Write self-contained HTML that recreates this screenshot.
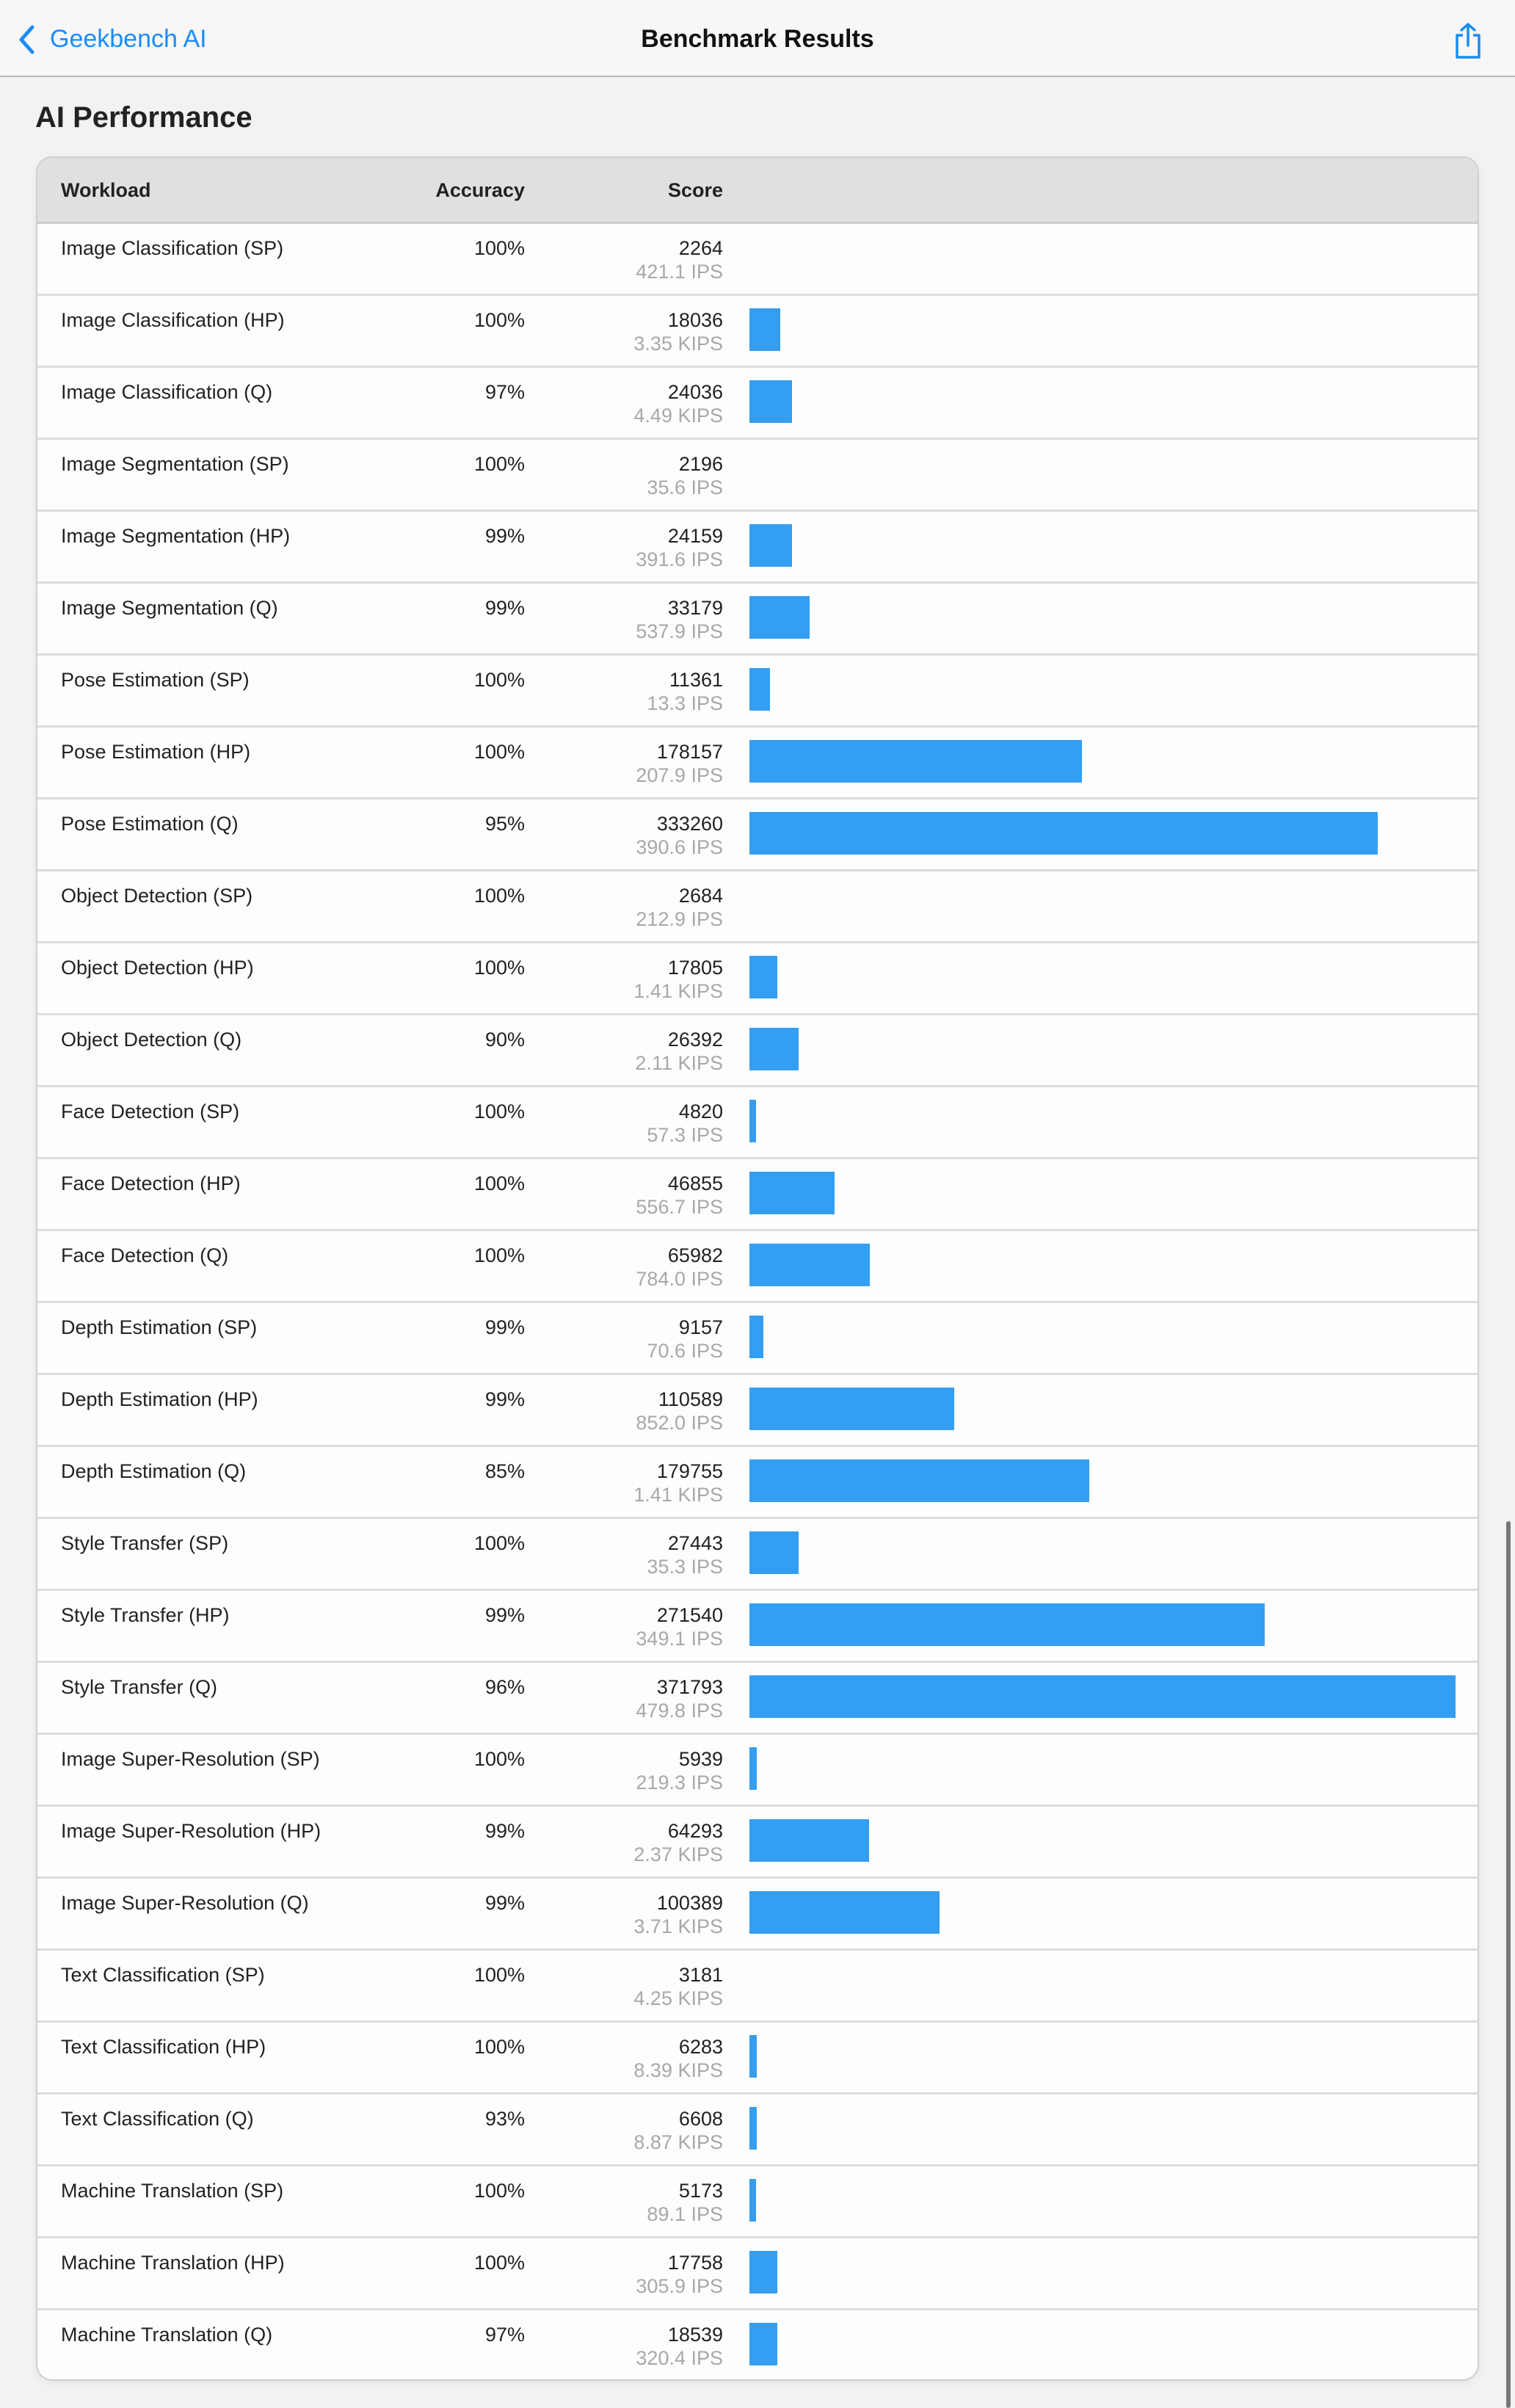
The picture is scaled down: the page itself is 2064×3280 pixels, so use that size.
<!DOCTYPE html>
<html><head><meta charset="utf-8"><style>
*{margin:0;padding:0;box-sizing:border-box}
body{width:2064px;height:3280px;background:#f2f2f2;font-family:"Liberation Sans",sans-serif;position:relative;overflow:hidden}
.nav{position:absolute;left:0;top:0;width:2064px;height:105px;background:#f7f7f7;border-bottom:2px solid #b8b8b8}
.back{position:absolute;left:68px;top:34px;font-size:34px;color:#1a8cf5}
.title{position:absolute;left:0;width:2064px;text-align:center;top:34px;font-size:34px;font-weight:bold;color:#111}
h1{position:absolute;left:48px;top:138px;font-size:40px;font-weight:bold;color:#222}
.card{position:absolute;left:49px;top:213px;width:1966px;height:3030px;background:#fdfdfd;border:2px solid #cfcfcf;border-radius:22px;overflow:hidden;box-shadow:0 4px 10px rgba(0,0,0,0.05)}
.hdr{height:90px;background:#e0e0e0;border-bottom:3px solid #cdcdcd;position:relative;font-weight:bold;font-size:27px;color:#222}
.hdr span{position:absolute;top:29px}
.row{height:98px;border-bottom:3px solid #dcdcdc;position:relative;font-size:27px;color:#222}
.row:last-child{border-bottom:none}
.n{position:absolute;left:32px;top:18px}
.a{position:absolute;right:1298px;top:18px}
.s{position:absolute;right:1028px;top:18px}
.u{position:absolute;right:1028px;top:50px;color:#a8a8a8}
.b{position:absolute;left:970px;top:17px;height:58px;background:#339ef2}
.sb{position:absolute;left:2052px;top:2072px;width:6px;height:1208px;background:#777;border-radius:3px}
</style></head><body>
<div class="nav">
<svg style="position:absolute;left:24px;top:34px" width="24" height="40" viewBox="0 0 24 40"><path d="M20 3 L5 20 L20 37" fill="none" stroke="#1a8cf5" stroke-width="5" stroke-linecap="round" stroke-linejoin="round"/></svg>
<div class="back">Geekbench AI</div>
<div class="title">Benchmark Results</div>
<svg style="position:absolute;left:1980px;top:30px" width="40" height="52" viewBox="0 0 40 52"><path d="M13 18 H5 V48 H35 V18 H27" fill="none" stroke="#1a8cf5" stroke-width="3.5" stroke-linejoin="round"/><path d="M20 32 V3 M11 11 L20 3 L29 11" fill="none" stroke="#1a8cf5" stroke-width="3.5" stroke-linecap="round" stroke-linejoin="round"/></svg>
</div>
<h1>AI Performance</h1>
<div class="card">
<div class="hdr"><span style="left:32px">Workload</span><span style="right:1298px">Accuracy</span><span style="right:1028px">Score</span></div>
<div class="row"><span class="n">Image Classification (SP)</span><span class="a">100%</span><span class="s">2264</span><span class="u">421.1 IPS</span></div>
<div class="row"><span class="n">Image Classification (HP)</span><span class="a">100%</span><span class="s">18036</span><span class="u">3.35 KIPS</span><div class="b" style="width:42px"></div></div>
<div class="row"><span class="n">Image Classification (Q)</span><span class="a">97%</span><span class="s">24036</span><span class="u">4.49 KIPS</span><div class="b" style="width:58px"></div></div>
<div class="row"><span class="n">Image Segmentation (SP)</span><span class="a">100%</span><span class="s">2196</span><span class="u">35.6 IPS</span></div>
<div class="row"><span class="n">Image Segmentation (HP)</span><span class="a">99%</span><span class="s">24159</span><span class="u">391.6 IPS</span><div class="b" style="width:58px"></div></div>
<div class="row"><span class="n">Image Segmentation (Q)</span><span class="a">99%</span><span class="s">33179</span><span class="u">537.9 IPS</span><div class="b" style="width:82px"></div></div>
<div class="row"><span class="n">Pose Estimation (SP)</span><span class="a">100%</span><span class="s">11361</span><span class="u">13.3 IPS</span><div class="b" style="width:28px"></div></div>
<div class="row"><span class="n">Pose Estimation (HP)</span><span class="a">100%</span><span class="s">178157</span><span class="u">207.9 IPS</span><div class="b" style="width:453px"></div></div>
<div class="row"><span class="n">Pose Estimation (Q)</span><span class="a">95%</span><span class="s">333260</span><span class="u">390.6 IPS</span><div class="b" style="width:856px"></div></div>
<div class="row"><span class="n">Object Detection (SP)</span><span class="a">100%</span><span class="s">2684</span><span class="u">212.9 IPS</span></div>
<div class="row"><span class="n">Object Detection (HP)</span><span class="a">100%</span><span class="s">17805</span><span class="u">1.41 KIPS</span><div class="b" style="width:38px"></div></div>
<div class="row"><span class="n">Object Detection (Q)</span><span class="a">90%</span><span class="s">26392</span><span class="u">2.11 KIPS</span><div class="b" style="width:67px"></div></div>
<div class="row"><span class="n">Face Detection (SP)</span><span class="a">100%</span><span class="s">4820</span><span class="u">57.3 IPS</span><div class="b" style="width:9px"></div></div>
<div class="row"><span class="n">Face Detection (HP)</span><span class="a">100%</span><span class="s">46855</span><span class="u">556.7 IPS</span><div class="b" style="width:116px"></div></div>
<div class="row"><span class="n">Face Detection (Q)</span><span class="a">100%</span><span class="s">65982</span><span class="u">784.0 IPS</span><div class="b" style="width:164px"></div></div>
<div class="row"><span class="n">Depth Estimation (SP)</span><span class="a">99%</span><span class="s">9157</span><span class="u">70.6 IPS</span><div class="b" style="width:19px"></div></div>
<div class="row"><span class="n">Depth Estimation (HP)</span><span class="a">99%</span><span class="s">110589</span><span class="u">852.0 IPS</span><div class="b" style="width:279px"></div></div>
<div class="row"><span class="n">Depth Estimation (Q)</span><span class="a">85%</span><span class="s">179755</span><span class="u">1.41 KIPS</span><div class="b" style="width:463px"></div></div>
<div class="row"><span class="n">Style Transfer (SP)</span><span class="a">100%</span><span class="s">27443</span><span class="u">35.3 IPS</span><div class="b" style="width:67px"></div></div>
<div class="row"><span class="n">Style Transfer (HP)</span><span class="a">99%</span><span class="s">271540</span><span class="u">349.1 IPS</span><div class="b" style="width:702px"></div></div>
<div class="row"><span class="n">Style Transfer (Q)</span><span class="a">96%</span><span class="s">371793</span><span class="u">479.8 IPS</span><div class="b" style="width:962px"></div></div>
<div class="row"><span class="n">Image Super-Resolution (SP)</span><span class="a">100%</span><span class="s">5939</span><span class="u">219.3 IPS</span><div class="b" style="width:10px"></div></div>
<div class="row"><span class="n">Image Super-Resolution (HP)</span><span class="a">99%</span><span class="s">64293</span><span class="u">2.37 KIPS</span><div class="b" style="width:163px"></div></div>
<div class="row"><span class="n">Image Super-Resolution (Q)</span><span class="a">99%</span><span class="s">100389</span><span class="u">3.71 KIPS</span><div class="b" style="width:259px"></div></div>
<div class="row"><span class="n">Text Classification (SP)</span><span class="a">100%</span><span class="s">3181</span><span class="u">4.25 KIPS</span></div>
<div class="row"><span class="n">Text Classification (HP)</span><span class="a">100%</span><span class="s">6283</span><span class="u">8.39 KIPS</span><div class="b" style="width:10px"></div></div>
<div class="row"><span class="n">Text Classification (Q)</span><span class="a">93%</span><span class="s">6608</span><span class="u">8.87 KIPS</span><div class="b" style="width:10px"></div></div>
<div class="row"><span class="n">Machine Translation (SP)</span><span class="a">100%</span><span class="s">5173</span><span class="u">89.1 IPS</span><div class="b" style="width:9px"></div></div>
<div class="row"><span class="n">Machine Translation (HP)</span><span class="a">100%</span><span class="s">17758</span><span class="u">305.9 IPS</span><div class="b" style="width:38px"></div></div>
<div class="row"><span class="n">Machine Translation (Q)</span><span class="a">97%</span><span class="s">18539</span><span class="u">320.4 IPS</span><div class="b" style="width:38px"></div></div>
</div>
<div class="sb"></div>
</body></html>
